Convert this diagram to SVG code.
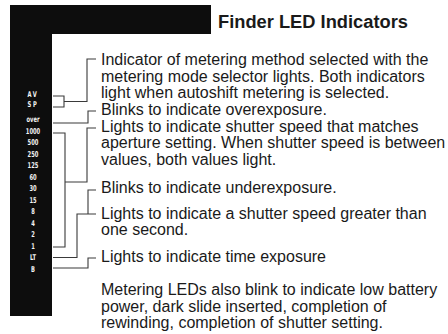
<svg xmlns="http://www.w3.org/2000/svg" width="448" height="334" viewBox="0 0 448 334">
<style>
.t{font-family:"Liberation Sans",Arial,sans-serif;font-size:16px;fill:#1a1a1a}
.h{font-family:"Liberation Sans",Arial,sans-serif;font-size:18.3px;font-weight:bold;fill:#1a1a1a}
.led{font-family:"DejaVu Sans Condensed","DejaVu Sans",sans-serif;font-size:8px;font-weight:bold;fill:#f4f4f4;text-anchor:middle}
.c{fill:none;stroke:#3a3a3a;stroke-width:1.1}
</style>
<rect width="448" height="334" fill="#ffffff"/>
<g id="finder">
<path d="M10,5 H211 V34 H52 V316 H10 Z" fill="#0d0d0d"/>
<g transform="translate(33,0) scale(0.72,1)">
<text class="led" x="0" y="97" letter-spacing="2.5">AV</text>
<text class="led" x="0" y="107" letter-spacing="2.5">SP</text>
<text class="led" x="0" y="122">over</text>
<text class="led" x="0" y="134">1000</text>
<text class="led" x="0" y="145.5">500</text>
<text class="led" x="0" y="157">250</text>
<text class="led" x="0" y="168.5">125</text>
<text class="led" x="0" y="180">60</text>
<text class="led" x="0" y="191.5">30</text>
<text class="led" x="0" y="203">15</text>
<text class="led" x="0" y="214.5">8</text>
<text class="led" x="0" y="226">4</text>
<text class="led" x="0" y="237.5">2</text>
<text class="led" x="0" y="249">1</text>
<text class="led" x="0" y="260.5">LT</text>
<text class="led" x="0" y="272">B</text>
</g>
</g>
<g id="title"><text class="h" x="218" y="28">Finder LED Indicators</text></g>
<g id="connectors">
<path class="c" d="M53,96 H64 V107 H53 M64,101.5 H87 V59 H96"/>
<path class="c" d="M53,123 H88 V111 H96"/>
<path class="c" d="M53,133 H65 V247 H53 M65,182 H87 V128 H96"/>
<path class="c" d="M53,257.5 H77 V214 H96 M88,214 V190 H96"/>
<path class="c" d="M53,268 H88 V258 H96"/>
</g>
<g id="metering-method"><text class="t" x="101" y="65">Indicator of metering method selected with the</text>
<text class="t" x="101" y="81.5">metering mode selector lights. Both indicators</text>
<text class="t" x="101" y="98">light when autoshift metering is selected.</text></g>
<g id="overexposure"><text class="t" x="101" y="115">Blinks to indicate overexposure.</text></g>
<g id="shutter-speed"><text class="t" x="101" y="131.5">Lights to indicate shutter speed that matches</text>
<text class="t" x="101" y="148">aperture setting. When shutter speed is between</text>
<text class="t" x="101" y="164.5">values, both values light.</text></g>
<g id="underexposure"><text class="t" x="101" y="193">Blinks to indicate underexposure.</text></g>
<g id="long-time"><text class="t" x="101" y="218.5">Lights to indicate a shutter speed greater than</text>
<text class="t" x="101" y="235">one second.</text></g>
<g id="time-exposure"><text class="t" x="101" y="262">Lights to indicate time exposure</text></g>
<g id="note"><text class="t" x="101" y="295">Metering LEDs also blink to indicate low battery</text>
<text class="t" x="101" y="311.5">power, dark slide inserted, completion of</text>
<text class="t" x="101" y="328">rewinding, completion of shutter setting.</text></g>
</svg>
